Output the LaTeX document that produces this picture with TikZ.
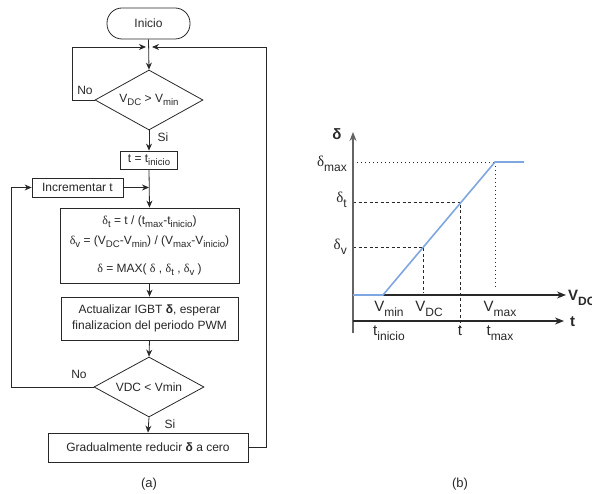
\documentclass[tikz,border=0pt]{standalone}
\usepackage{graphicx}
\usepackage{fontspec}
\setmainfont{Liberation Sans}
\newfontfamily\serifgr{Liberation Serif}
\usetikzlibrary{arrows.meta,shapes.geometric}

\definecolor{ln}{RGB}{40,40,40}
\definecolor{bl}{RGB}{126,166,224}
\definecolor{axg}{RGB}{100,100,100}

\newcommand{\dl}{{\serifgr δ}}
\newcommand{\sbs}[1]{\raisebox{-0.28em}{\scalebox{0.8}{#1}}}

\begin{document}
\begin{tikzpicture}[x=1pt,y=-1pt,
  every node/.style={font=\fontsize{12}{14.4}\selectfont, inner sep=0pt, text=ln},
  box/.style={draw=ln, line width=0.8pt, fill=white, align=center},
  term/.style={box, rounded corners=15pt, minimum width=83pt, minimum height=31pt},
  dec/.style={draw=ln, line width=0.8pt, diamond, aspect=1.8, minimum width=108pt, minimum height=60pt},
  arr/.style={draw=ln, line width=0.8pt, -{Stealth[length=7pt,width=6pt]}},
  con/.style={draw=ln, line width=0.8pt},
  lab/.style={font=\fontsize{15}{18}\selectfont},
  blab/.style={font=\fontsize{15}{18}\selectfont\bfseries},
  dsh/.style={draw=ln, line width=0.8pt, dash pattern=on 3pt off 2.5pt},
  dot/.style={draw=ln, line width=0.8pt, dash pattern=on 1pt off 3pt},
  axis/.style={line width=1.2pt, -{Stealth[length=9pt,width=7pt]}}]

\useasboundingbox (0,0) rectangle (592,494);

% ---------- flowchart (a) ----------
\node[term] (start) at (148.5,23.5) {Inicio};
\coordinate (jl) at (146,47);
\coordinate (jr) at (152,47);
\node[dec] (d1) at (149,100) {V\sbs{DC} > V\sbs{min}};
\node[box, minimum width=57pt, minimum height=18pt] (t0) at (149,160) {t = t\sbs{inicio}};
\node[box, minimum width=91pt, minimum height=19pt] (inc) at (77.5,187.5) {Incrementar t};
\node[box, minimum width=179pt, minimum height=75pt, font=\fontsize{12}{20}\selectfont] (f) at (149.5,245.5)
  {\dl\sbs{t} = t / (t\sbs{max}-t\sbs{inicio})\\
   \dl\sbs{v} = (V\sbs{DC}-V\sbs{min}) / (V\sbs{max}-V\sbs{inicio})\\[8pt]
   \dl{} = MAX( \dl{} , \dl\sbs{t} , \dl\sbs{v} )};
\node[box, minimum width=177pt, minimum height=43pt, font=\fontsize{12}{16}\selectfont] (act) at (149.5,318.5)
  {Actualizar IGBT \textbf{δ}, esperar\\finalizacion del periodo PWM};
\node[dec, minimum width=110pt] (d2) at (149,387) {VDC < Vmin};
\node[box, minimum width=200pt, minimum height=29pt] (gr) at (148,447.5) {Gradualmente reducir \textbf{δ} a cero};

\draw[arr] (start.south) -- (d1.north);
\draw[arr] (d1.west) -- ++(-22,0) |- (jl);
\node (no1) at (85,90) {No};
\draw[arr] (d1.south) -- (t0.north);
\node (si1) at (163,137) {Si};
\draw[arr] (t0.south) -- (f.north);
\draw[arr] (inc.east) -- (inc.east -| t0.south);
\draw[arr] (f.south) -- (act.north);
\draw[arr] (act.south) -- (d2.north);
\draw[arr] (d2.south) -- (gr.north);
\draw[arr] (d2.west) -- ++(-82,0) |- (inc.west);
\node (no2) at (79,374) {No};
\node (si2) at (170,424) {Si};
\draw[arr] (gr.east) -- ++(18,0) |- (jr);
\node[font=\fontsize{13}{15}\selectfont] (la) at (149,484) {(a)};

% ---------- plot (b) ----------
\coordinate (O) at (353,295);
\coordinate (ytop) at (353,132);
\coordinate (ybot) at (353,333);
\coordinate (xv) at (566,295);
\coordinate (xt) at (564,321);
\coordinate (tl) at (353,321);
\coordinate (p1) at (383,295);
\coordinate (p2) at (495,162);
\coordinate (p3) at (524,162);
\coordinate (dv) at (423,247);
\coordinate (dt) at (460,202);

\draw[dot] (353,162) -- (p2);
\draw[dot] (p2) -- (495,290);
\draw[dsh] (353,202) -- (dt) -- (460,327);
\draw[dsh] (353,247) -- (dv) -- (423,293);

\draw[axis, draw=axg, fill=axg] (ybot) -- (ytop);
\draw[axis, draw=ln, fill=ln] (O) -- (xv);
\draw[axis, draw=ln, fill=ln] (tl) -- (xt);

\draw[bl, line width=1.6pt] (O) -- (p1) -- (p2) -- (p3);

\node[blab, anchor=base] (dlab) at (337,140) {δ};
\node[lab, anchor=base east] (dmax) at (347,167) {\dl\sbs{max}};
\node[lab, anchor=base east] (dtl) at (347,203) {\dl\sbs{t}};
\node[lab, anchor=base east] (dvl) at (347,250) {\dl\sbs{v}};

\node[lab, anchor=base] (vmin) at (389,312) {V\sbs{min}};
\node[lab, anchor=base] (vdc) at (429,312) {V\sbs{DC}};
\node[lab, anchor=base] (vmax) at (500,312) {V\sbs{max}};
\node[lab, anchor=base] (tini) at (389,336) {t\sbs{inicio}};
\node[lab, anchor=base] (tt) at (460,336) {t};
\node[lab, anchor=base] (tmax) at (500,336) {t\sbs{max}};
\node[blab, anchor=base west] (vdcax) at (568,301) {V\sbs{DC}};
\node[blab, anchor=base west] (tax) at (570,327) {t};
\node[font=\fontsize{13}{15}\selectfont] (lb) at (460,484) {(b)};
\end{tikzpicture}
\end{document}
